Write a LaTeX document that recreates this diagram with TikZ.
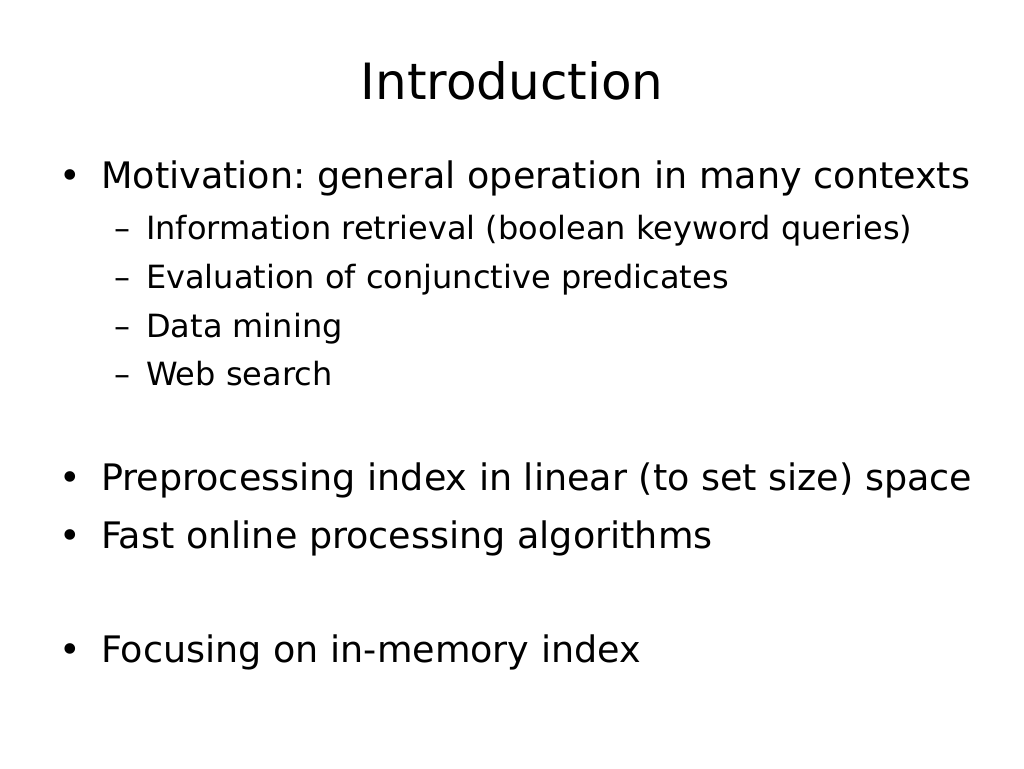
\documentclass[tikz,border=0pt]{standalone}
\usepackage{fontspec}
\setmainfont{DejaVu Sans}
\frenchspacing

\begin{document}
\begin{tikzpicture}[x=1pt, y=-1pt]
	\tikzstyle{every node}=[inner sep=0pt, anchor=base west]
	\tikzstyle{title}=[font=\fontsize{50}{60}\selectfont, anchor=base]
	\tikzstyle{item}=[font=\fontsize{36.5}{44}\selectfont]
	\tikzstyle{subitem}=[font=\fontsize{32}{38}\selectfont]

	\useasboundingbox[fill=white] (0,0) rectangle (1024,768);

	%title
	\node[title] (title) at (512,99) {Introduction};

	%bullets
	\foreach \y/\t [count=\i] in {188/{Motivation: general operation in many contexts},
			490/{Preprocessing index in linear (to set size) space},
			548/{Fast online processing algorithms},
			662/{Focusing on in-memory index}}
	{
		\node[item, anchor=base] (dot\i) at (70,\y) {•};
		\node[item] (item\i) at (101,\y) {\t};
	}

	%sub items
	\foreach \y/\t [count=\i] in {239/{Information retrieval (boolean keyword queries)},
			288/{Evaluation of conjunctive predicates},
			337/{Data mining},
			385/{Web search}}
	{
		\node[subitem, anchor=base] (dash\i) at (122,\y) {–};
		\node[subitem] (sub\i) at (146,\y) {\t};
	}
\end{tikzpicture}
\end{document}
